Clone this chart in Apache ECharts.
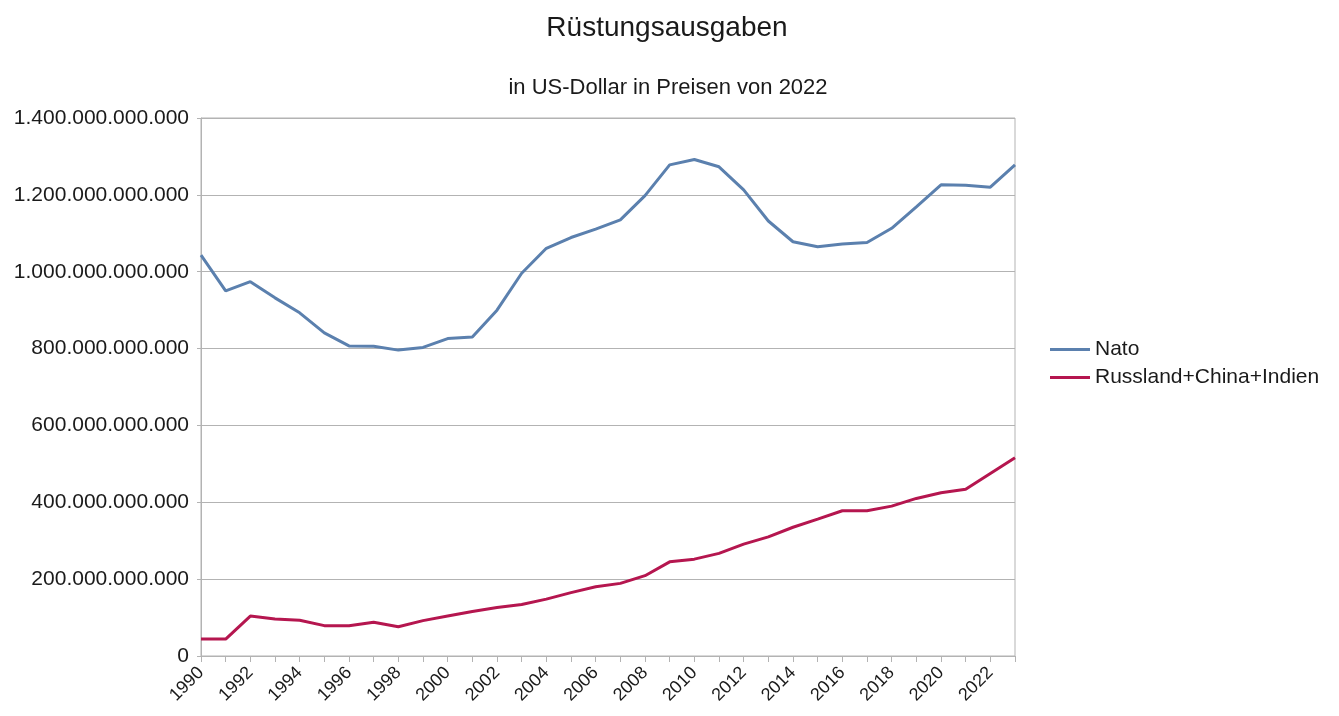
<!DOCTYPE html>
<html>
<head>
<meta charset="utf-8">
<script src="https://cdn.jsdelivr.net/npm/echarts@6/dist/echarts.min.js"></script>
<style>
  html, body { margin: 0; padding: 0; background: #fff; }
  #chart { width: 1339px; height: 716px; }
</style>
</head>
<body>
<div id="chart"></div>
<script>
// Jahre 1990 - 2023
var years = [];
for (var y = 1990; y <= 2023; y++) years.push(String(y));

// Werte in Mrd. US-Dollar (Preise von 2022)
var nato = [1043, 950, 974, 932, 893, 841, 807, 806, 796, 803, 826, 830, 900, 996,
            1061, 1089, 1111, 1135, 1198, 1278, 1292, 1273, 1213, 1132, 1078, 1065,
            1072, 1076, 1113, 1169, 1226, 1225, 1220, 1278];
var rci = [44, 44, 104, 96, 93, 79, 79, 88, 76, 92, 104, 116, 126, 134, 148, 165,
           180, 189, 209, 245, 252, 267, 291, 310, 335, 356, 378, 378, 390, 410,
           425, 434, 475, 516];

var seriesNames = ['Nato', 'Russland+China+Indien'];
var seriesColors = ['#5b80ae', '#b5164f'];

function fmt(v) {
  var s = String(Math.round(v * 1e9));
  return s.replace(/\B(?=(\d{3})+(?!\d))/g, '.');
}

var chart = echarts.init(document.getElementById('chart'));
var font = 'Liberation Sans, Arial, sans-serif';
var txt = '#1a1a1a';
var option = {
  backgroundColor: '#fff',
  animation: false,
  textStyle: { fontFamily: font },
  title: [
    { text: 'Rüstungsausgaben', left: 662, top: 9, textAlign: 'center',
      textStyle: { fontSize: 28, fontWeight: 'normal', color: txt, fontFamily: font } },
    { text: 'in US-Dollar in Preisen von 2022', left: 663, top: 72, textAlign: 'center',
      textStyle: { fontSize: 22, fontWeight: 'normal', color: txt, fontFamily: font } }
  ],
  legend: {
    orient: 'vertical',
    left: 1045,
    top: 334,
    icon: 'rect',
    itemWidth: 40,
    itemHeight: 3,
    itemGap: 7,
    textStyle: { fontSize: 21, color: txt, fontFamily: font },
    data: seriesNames
  },
  grid: {
    left: 201, right: 324, top: 118, bottom: 60,
    show: true, borderColor: '#b3b3b3', borderWidth: 1
  },
  xAxis: {
    type: 'category',
    boundaryGap: false,
    data: years,
    axisLine: { lineStyle: { color: '#b3b3b3', width: 1 } },
    axisTick: { show: true, interval: 0, length: 6, lineStyle: { color: '#b3b3b3' } },
    axisLabel: { interval: 1, rotate: 45, fontSize: 18, color: txt, margin: 14, fontFamily: font },
    splitLine: { show: false }
  },
  yAxis: {
    type: 'value',
    min: 0, max: 1400, interval: 200,
    axisLine: { show: true, lineStyle: { color: '#b3b3b3', width: 1 } },
    axisTick: { show: true, length: 4, inside: false, lineStyle: { color: '#b3b3b3' } },
    axisLabel: { fontSize: 21, color: txt, margin: 12, fontFamily: font, formatter: fmt },
    splitLine: { show: true, lineStyle: { color: '#b3b3b3', width: 1 } }
  },
  series: [
    { name: seriesNames[0], type: 'line', data: nato, symbol: 'none',
      lineStyle: { width: 3, color: seriesColors[0] }, itemStyle: { color: seriesColors[0] } },
    { name: seriesNames[1], type: 'line', data: rci, symbol: 'none',
      lineStyle: { width: 3, color: seriesColors[1] }, itemStyle: { color: seriesColors[1] } }
  ]
};
chart.setOption(option);
</script>
</body>
</html>
